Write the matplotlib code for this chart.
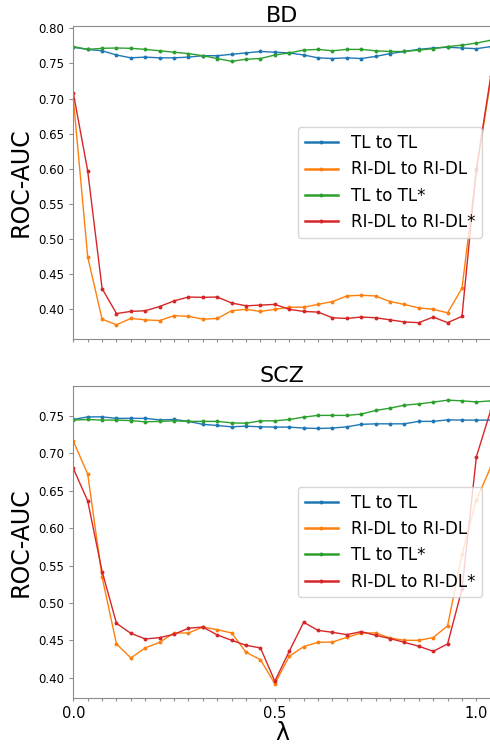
import numpy as np
import matplotlib
matplotlib.use("Agg")
import matplotlib.pyplot as plt

# lambda grid: 30 points, step 1/28
lam = np.arange(30) / 28

labels = ["TL to TL", "RI-DL to RI-DL", "TL to TL*", "RI-DL to RI-DL*"]
colors = ["tab:blue", "tab:orange", "tab:green", "tab:red"]

# BD
bd_tl = [0.773, 0.770, 0.768, 0.762, 0.758, 0.759, 0.758, 0.758, 0.759, 0.761,
         0.761, 0.763, 0.765, 0.767, 0.766, 0.765, 0.762, 0.758, 0.757, 0.758,
         0.757, 0.760, 0.764, 0.767, 0.770, 0.772, 0.773, 0.772, 0.771, 0.774]
bd_ridl = [0.700, 0.4745, 0.386, 0.378, 0.387, 0.385, 0.384, 0.391, 0.390, 0.386,
           0.387, 0.398, 0.400, 0.397, 0.400, 0.403, 0.403, 0.407, 0.411, 0.419,
           0.420, 0.419, 0.411, 0.407, 0.402, 0.400, 0.395, 0.430, 0.597, 0.727]
bd_tl_star = [0.774, 0.770, 0.7715, 0.772, 0.7715, 0.770, 0.768, 0.766, 0.764, 0.761,
              0.757, 0.753, 0.756, 0.757, 0.762, 0.765, 0.769, 0.770, 0.768, 0.770,
              0.770, 0.768, 0.767, 0.767, 0.769, 0.771, 0.774, 0.776, 0.779, 0.783]
bd_ridl_star = [0.708, 0.597, 0.4295, 0.394, 0.397, 0.398, 0.404, 0.412, 0.4175, 0.417,
                0.4175, 0.409, 0.405, 0.406, 0.407, 0.400, 0.397, 0.396, 0.388, 0.387,
                0.389, 0.388, 0.385, 0.382, 0.381, 0.389, 0.381, 0.390, 0.600, 0.732]

# SCZ
scz_tl = [0.7455, 0.749, 0.749, 0.747, 0.747, 0.747, 0.745, 0.7455, 0.743, 0.739,
          0.7375, 0.7357, 0.7366, 0.7357, 0.7353, 0.7353, 0.734, 0.7335, 0.734, 0.7357,
          0.739, 0.7397, 0.7397, 0.7397, 0.743, 0.743, 0.745, 0.7447, 0.7447, 0.7447]
scz_ridl = [0.7166, 0.6725, 0.5345, 0.445, 0.4263, 0.4397, 0.4472, 0.4597, 0.4597, 0.4677,
            0.4641, 0.4597, 0.4338, 0.424, 0.3916, 0.4285, 0.4414, 0.4472, 0.4476, 0.4539,
            0.4597, 0.4597, 0.453, 0.4499, 0.4499, 0.4535, 0.4694, 0.565, 0.638, 0.682]
scz_tl_star = [0.7447, 0.7455, 0.7447, 0.7447, 0.744, 0.7424, 0.743, 0.7437, 0.743, 0.743,
               0.743, 0.741, 0.7405, 0.7437, 0.7437, 0.7455, 0.7487, 0.751, 0.751, 0.751,
               0.7527, 0.7576, 0.7607, 0.7647, 0.7664, 0.7687, 0.7714, 0.7705, 0.769, 0.7705]
scz_ridl_star = [0.680, 0.6365, 0.542, 0.4726, 0.4592, 0.4517, 0.4535, 0.458, 0.466, 0.4677,
                 0.457, 0.4499, 0.4432, 0.4397, 0.3951, 0.4352, 0.474, 0.4632, 0.4606, 0.4575,
                 0.4615, 0.4566, 0.4522, 0.4472, 0.4419, 0.4352, 0.445, 0.5185, 0.6957, 0.758]

panels = [
    ("BD", [bd_tl, bd_ridl, bd_tl_star, bd_ridl_star]),
    ("SCZ", [scz_tl, scz_ridl, scz_tl_star, scz_ridl_star]),
]

fig = plt.figure(figsize=(4.9, 7.48), dpi=100)
ax_top = fig.add_axes([0.1496, 0.5468, 0.8520, 0.4184])
ax_bot = fig.add_axes([0.1496, 0.0668, 0.8520, 0.4172])

tick_labels = ["" for _ in lam]
tick_labels[0], tick_labels[14], tick_labels[28] = "0.0", "0.5", "1.0"

for ax, (title, series) in zip([ax_top, ax_bot], panels):
    for vals, lab, col in zip(series, labels, colors):
        ax.plot(lam, vals, color=col, lw=1.0, marker="o", markersize=1.8, label=lab)
    ax.set_xlim(0, lam[-1])
    ax.set_title(title, fontsize=16, pad=3)
    ax.set_ylabel("ROC-AUC", fontsize=17)
    ax.set_xticks(lam)
    ax.tick_params(axis="x", length=2.5, color="0.55", labelsize=10.5)
    ax.tick_params(axis="y", length=3, color="0.55", labelsize=8.5)
    for s in ax.spines.values():
        s.set_color("0.55")
    ax.spines["right"].set_visible(False)
    leg = ax.legend(loc="center right", fontsize=12)
    for ln in leg.get_lines():
        ln.set_linewidth(1.8)

ax_top.set_xticklabels([])
ax_bot.set_xticklabels(tick_labels)
ax_top.set_yticks(np.arange(0.40, 0.801, 0.05))
ax_bot.set_yticks(np.arange(0.40, 0.751, 0.05))
ax_bot.set_xlabel("λ", fontsize=17, labelpad=0)

fig.savefig("out.png", dpi=100)
